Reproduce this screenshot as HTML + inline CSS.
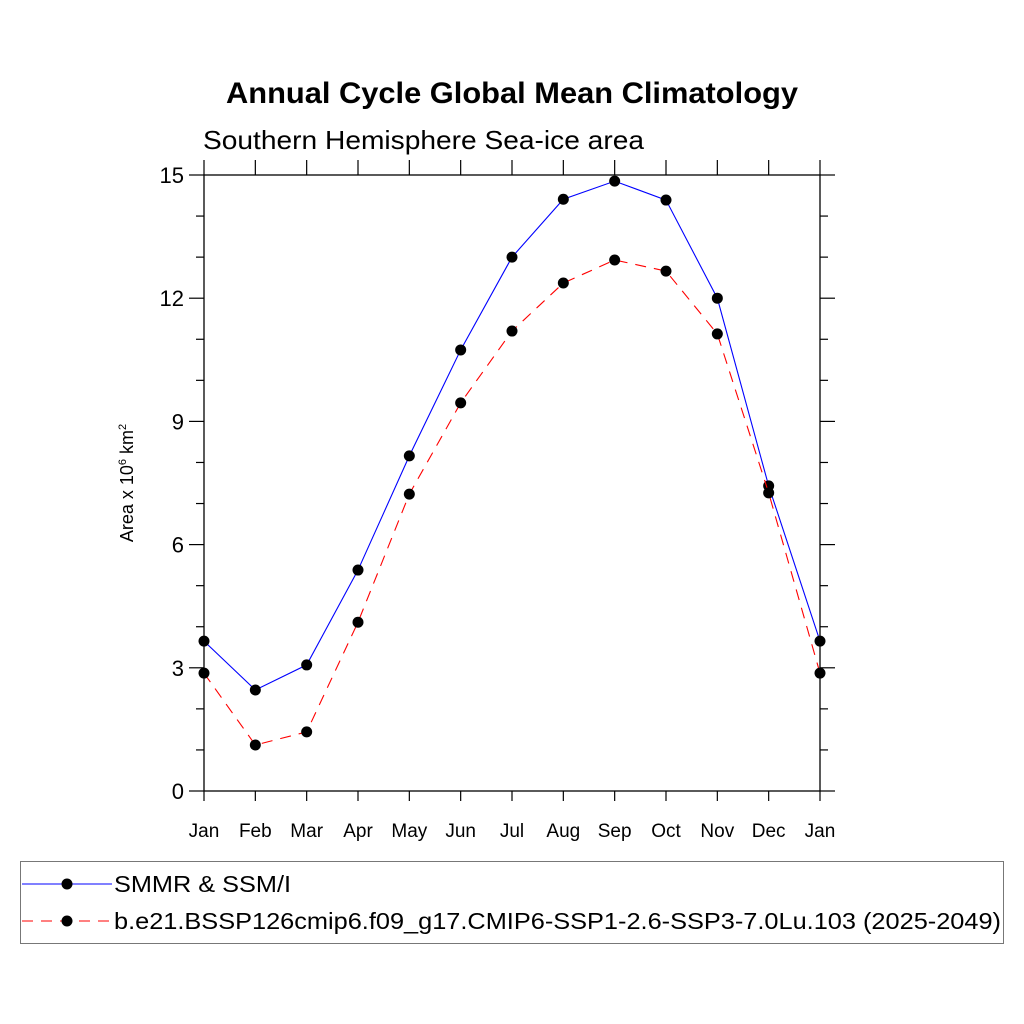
<!DOCTYPE html>
<html><head><meta charset="utf-8"><style>body{margin:0;background:#fff}svg{display:block}text{font-family:"Liberation Sans",sans-serif}</style></head>
<body>
<svg id="c" width="1024" height="1024" viewBox="0 0 1024 1024" xmlns="http://www.w3.org/2000/svg">
<rect width="1024" height="1024" fill="#fff"/>
<text x="226" y="103" font-size="30" font-weight="bold" textLength="572" lengthAdjust="spacingAndGlyphs">Annual Cycle Global Mean Climatology</text>
<text x="203" y="149" font-size="26" textLength="441" lengthAdjust="spacingAndGlyphs">Southern Hemisphere Sea-ice area</text>
<text transform="translate(133,483) rotate(-90)" text-anchor="middle" font-size="18">Area x 10<tspan font-size="11" dy="-7">6</tspan><tspan dy="7"> km</tspan><tspan font-size="11" dy="-7">2</tspan></text>
<g id="axes"></g>
<g id="series"></g>
<rect x="20.5" y="861.5" width="983" height="82" fill="none" stroke="#777" stroke-width="1"/>
<g>
<line x1="22" y1="884" x2="112" y2="884" stroke="#00f" stroke-width="1"/>
<circle cx="67" cy="884" r="5.5"/>
<text x="114" y="892" font-size="23" textLength="177" lengthAdjust="spacingAndGlyphs">SMMR &amp; SSM/I</text>
</g>
<g>
<line x1="22" y1="921" x2="112" y2="921" stroke="#f00" stroke-width="1" stroke-dasharray="11,8"/>
<circle cx="67" cy="921" r="5.5"/>
<text x="114" y="929" font-size="23" textLength="887" lengthAdjust="spacingAndGlyphs">b.e21.BSSP126cmip6.f09_g17.CMIP6-SSP1-2.6-SSP3-7.0Lu.103 (2025-2049)</text>
</g>
</svg>
<script>
const months=["Jan","Feb","Mar","Apr","May","Jun","Jul","Aug","Sep","Oct","Nov","Dec","Jan"];
const obsValues=[3.65,2.46,3.07,5.38,8.16,10.74,13.0,14.41,14.85,14.39,12.0,7.43,3.65];
const modelValues=[2.87,1.12,1.44,4.11,7.23,9.45,11.2,12.37,12.93,12.66,11.13,7.26,2.87];
const yTicks=[0,3,6,9,12,15];
const NS="http://www.w3.org/2000/svg";
const L=204,R=820,T=175,B=791,YMAX=15;
const xs=i=>L+(R-L)*i/(months.length-1);
const ys=v=>B-(B-T)*v/YMAX;
function mk(tag,attrs,parent){const e=document.createElementNS(NS,tag);for(const k in attrs)e.setAttribute(k,attrs[k]);parent.appendChild(e);return e;}
const ax=document.getElementById('axes');
const frame=mk('rect',{x:L,y:T,width:R-L,height:B-T,fill:'none',stroke:'#000','stroke-width':1.3},ax);


for(let v=0;v<=YMAX;v++){
  const y=ys(v),major=v%3===0,len=major?15:8;
  mk('line',{x1:L-len,y1:y,x2:L,y2:y,stroke:'#000','stroke-width':1.2},ax);
  mk('line',{x1:R,y1:y,x2:R+len,y2:y,stroke:'#000','stroke-width':1.2},ax);
}
yTicks.forEach(v=>{
  const t=mk('text',{x:L-20,y:ys(v)+8,'text-anchor':'end','font-size':22},ax);
  t.textContent=v;
  
  
});
months.forEach((m,i)=>{
  const x=xs(i);
  mk('line',{x1:x,y1:B,x2:x,y2:B+10,stroke:'#000','stroke-width':1.2},ax);
  mk('line',{x1:x,y1:T-15,x2:x,y2:T,stroke:'#000','stroke-width':1.2},ax);
  const t=mk('text',{x:x,y:B+46,'text-anchor':'middle','font-size':19},ax);
  t.textContent=m;
  
  
});
const sg=document.getElementById('series');
function draw(vals,color,dash,name){
  const g=mk('g',{},sg);
  
  
  const pts=vals.map((v,i)=>xs(i)+','+ys(v)).join(' ');
  const pl=mk('polyline',{points:pts,fill:'none',stroke:color,'stroke-width':1.1},g);
  if(dash)pl.setAttribute('stroke-dasharray',dash);
  vals.forEach((v,i)=>{
    const c=mk('circle',{cx:xs(i),cy:ys(v),r:5.5,fill:'#000'},g);
    
    
  });
}
draw(obsValues,'#00f',null,'series-smmr-ssmi');
draw(modelValues,'#f00','11,8','series-model');
</script>
</body></html>
